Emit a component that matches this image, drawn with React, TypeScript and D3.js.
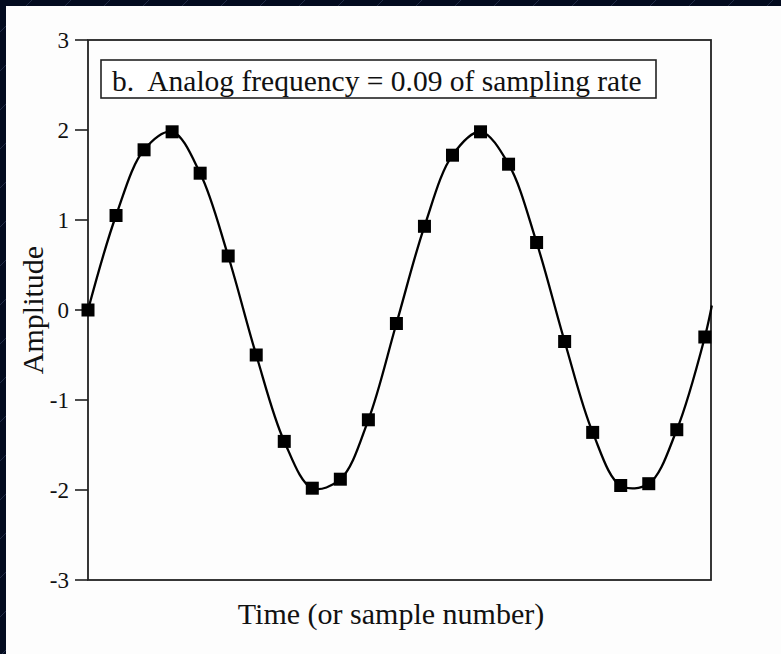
import React from "react";
import * as d3 from "d3";

const sampleIndex = [0,1,2,3,4,5,6,7,8,9,10,11,12,13,14,15,16,17,18,19,20,21,22];
const sampleValues = [0,1.05,1.78,1.98,1.52,0.6,-0.5,-1.46,-1.98,-1.88,-1.22,-0.15,0.93,1.72,1.98,1.62,0.75,-0.35,-1.36,-1.95,-1.93,-1.33,-0.3];
const curveEnd = { n: 22.25, v: 0.05 };
const yTicks = [-3,-2,-1,0,1,2,3];
const legendText = "b.  Analog frequency = 0.09 of sampling rate";
const xLabel = "Time (or sample number)";
const yLabel = "Amplitude";

const W = 781, H = 654;
const L = 88, R = 711, T = 40, B = 580;

export default function App() {
  const x = d3.scaleLinear().domain([0, 22.22]).range([L, R]);
  const y = d3.scaleLinear().domain([-3, 3]).range([B, T]);
  const pts: [number, number][] = sampleIndex.map((n, i) => [n, sampleValues[i]]);
  const curvePts = [...pts, [curveEnd.n, curveEnd.v] as [number, number]];
  const line = d3.line<[number, number]>().x(d => x(d[0])).y(d => y(d[1])).curve(d3.curveCatmullRom.alpha(0.5));
  const diag = d3.range(-700, 800, 39);
  const font = "'Liberation Serif', 'Times New Roman', serif";
  return (
    <svg width={W} height={H} style={{ position: "absolute", left: 0, top: 0, display: "block" }}>
      <rect x={0} y={0} width={W} height={H} fill="#030b1f" />
      <g stroke="#2a3550" strokeWidth={0.8}>
        {diag.map((d, i) => (
          <line key={i} x1={d} y1={H} x2={d + H} y2={0} />
        ))}
      </g>
      <rect x={6} y={6} width={W - 6} height={H - 6} fill="#fdfdfd" />
      <g fontFamily={font} fill="#111">
        {yTicks.map(t => (
          <g key={t}>
            <line x1={75} x2={L} y1={y(t)} y2={y(t)} stroke="#111" strokeWidth={1.5} />
            <text x={69} y={y(t)} dy="0.35em" textAnchor="end" fontSize={23}>{t}</text>
          </g>
        ))}
        <rect x={L} y={T} width={R - L} height={B - T} fill="none" stroke="#222" strokeWidth={1.8} />
        <rect x={101} y={60} width={555} height={38} fill="#fff" stroke="#222" strokeWidth={1.6} />
        <text x={112} y={91} fontSize={29.5} style={{ whiteSpace: "pre" }}>{legendText}</text>
        <path d={line(curvePts) || ""} fill="none" stroke="#000" strokeWidth={2.3} />
        {pts.map(([n, v], i) => (
          <rect key={i} x={x(n) - 6.5} y={y(v) - 6.5} width={13} height={13} fill="#000" />
        ))}
        <text x={391} y={624} textAnchor="middle" fontSize={30}>{xLabel}</text>
        <text transform={`translate(43, ${y(0)}) rotate(-90)`} textAnchor="middle" fontSize={30}>{yLabel}</text>
      </g>
    </svg>
  );
}
